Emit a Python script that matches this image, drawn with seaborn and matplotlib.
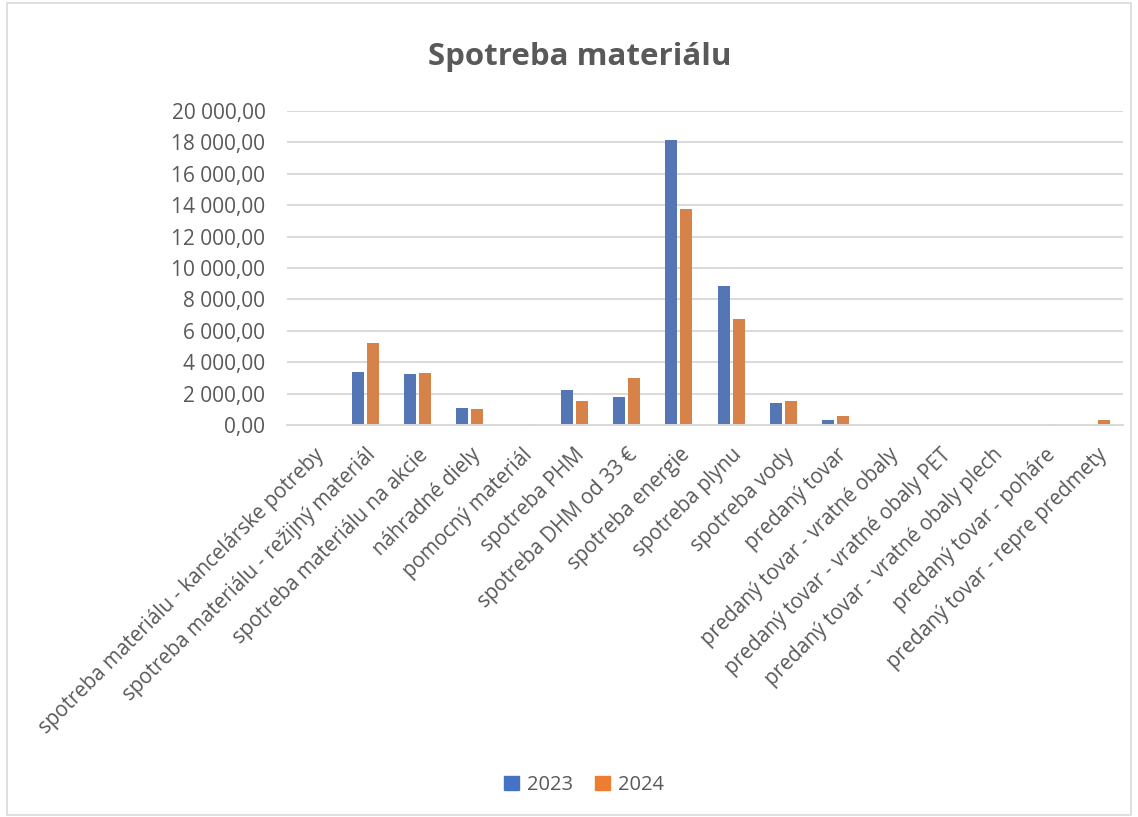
import matplotlib
matplotlib.use("Agg")
import matplotlib.pyplot as plt
import matplotlib.ticker as mticker
from matplotlib.patches import Rectangle
import seaborn as sns
import pandas as pd

categories = [
    "spotreba materiálu - kancelárske potreby",
    "spotreba materiálu - režijný materiál",
    "spotreba materiálu na akcie",
    "náhradné diely",
    "pomocný materiál",
    "spotreba PHM",
    "spotreba DHM od 33 €",
    "spotreba energie",
    "spotreba plynu",
    "spotreba vody",
    "predaný tovar",
    "predaný tovar - vratné obaly",
    "predaný tovar - vratné obaly PET",
    "predaný tovar - vratné obaly plech",
    "predaný tovar - poháre",
    "predaný tovar - repre predmety",
]
values_2023 = [0, 3380, 3250, 1060, 0, 2210, 1765, 18130, 8860, 1425, 300, 0, 0, 0, 0, 0]
values_2024 = [0, 5250, 3330, 1020, 35, 1530, 2995, 13740, 6730, 1510, 595, 0, 10, 0, 80, 340]
years = ["2023", "2024"]
colors = ["#4472C4", "#ED7D31"]
yticks = [0, 2000, 4000, 6000, 8000, 10000, 12000, 14000, 16000, 18000, 20000]

rows = []
for y, vals in zip(years, [values_2023, values_2024]):
    for c, v in zip(categories, vals):
        rows.append({"kategoria": c, "hodnota": v, "rok": y})
df = pd.DataFrame(rows)

sns.set_theme(style="white")
plt.rcParams["font.family"] = ["Open Sans", "DejaVu Sans"]
txt = "#595959"

fig = plt.figure(figsize=(11.38, 8.17), dpi=100)
ax = fig.add_axes([287 / 1138, 1 - 425 / 817, (1123 - 287) / 1138, (425 - 111) / 817])

sns.barplot(data=df, x="kategoria", y="hodnota", hue="rok", order=categories,
            hue_order=years, palette=colors, width=0.574, gap=0.2,
            linewidth=0, ax=ax, legend=False)

ax.set_xlim(-0.5, len(categories) - 0.5)
ax.set_ylim(0, 20000)
ax.set_yticks(yticks)
ax.yaxis.set_major_formatter(mticker.FuncFormatter(
    lambda v, p: f"{v:,.2f}".replace(",", " ").replace(".", ",")))
ax.grid(axis="y", color="#d9d9d9", linewidth=1.4)
ax.set_axisbelow(True)
for s in ["top", "right", "left"]:
    ax.spines[s].set_visible(False)
ax.spines["bottom"].set_color("#d9d9d9")
ax.spines["bottom"].set_linewidth(1.4)
ax.tick_params(axis="y", length=0, pad=15.5, labelsize=15, labelcolor=txt)
ax.tick_params(axis="x", length=0, pad=14, labelsize=14.8, labelcolor=txt)
ax.set_xticks(range(len(categories)))
ax.set_xticklabels(categories, rotation=45, ha="right", va="top", rotation_mode="anchor")
ax.set_xlabel("")
ax.set_ylabel("")

fig.text(580 / 1138, 1 - 57 / 817, "Spotreba materiálu", ha="center", va="center",
         fontsize=22.5, fontweight="bold", color=txt)

handles = [Rectangle((0, 0), 1, 1, color=c) for c in colors]
fig.legend(handles, years, loc="center", bbox_to_anchor=(584 / 1138, 1 - 785 / 817),
           ncol=2, frameon=False, fontsize=14.5, labelcolor=txt,
           handlelength=0.75, handleheight=0.75, handletextpad=0.4, columnspacing=1.1)

fig.patches.append(Rectangle((7 / 1138, 2 / 817), 1124 / 1138, 812 / 817,
                             transform=fig.transFigure, fill=False,
                             edgecolor="#d9d9d9", linewidth=1.2))

fig.savefig("out.png", dpi=100)
